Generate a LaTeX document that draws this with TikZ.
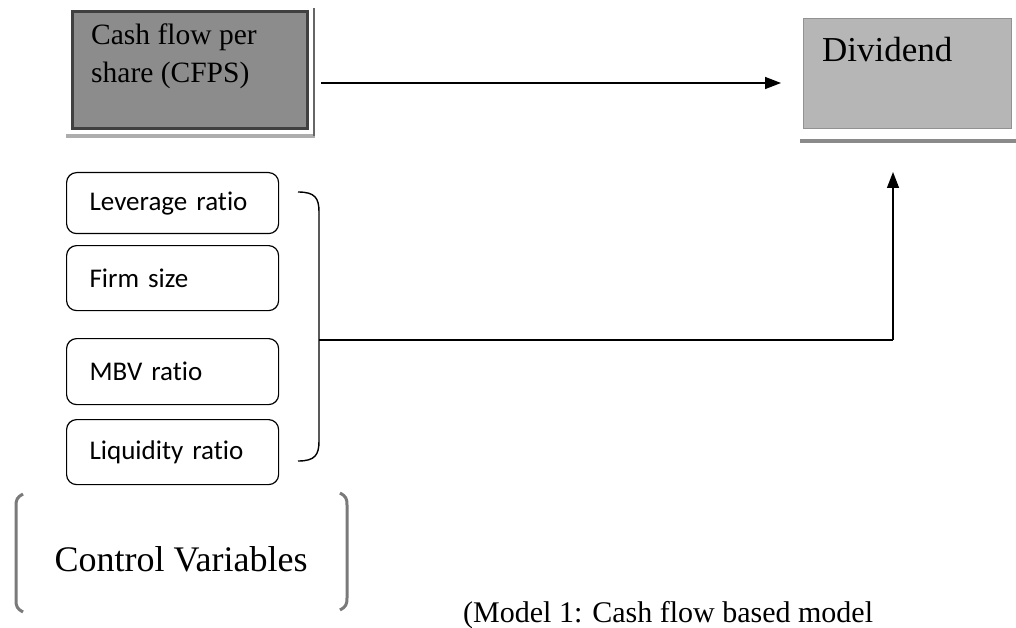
\documentclass[tikz,border=0pt]{standalone}
\usepackage{fontspec}
\setmainfont{Liberation Serif}
\newfontfamily\calfont[Ligatures=NoCommon]{Carlito}
\usetikzlibrary{arrows.meta}
\definecolor{darkbox}{HTML}{8C8C8C}
\definecolor{lightbox}{HTML}{B6B6B6}
\definecolor{brk}{HTML}{7A7A7A}
\definecolor{strip}{HTML}{8A8A8A}
\tikzset{
  varbox/.style={draw=black, line width=1.2pt, rounded corners=10pt, minimum width=212pt, anchor=north west, align=left, text width=166pt, font=\calfont\fontsize{27}{31}\selectfont, inner xsep=22pt},
  cfps/.style={draw=black!75, fill=darkbox, line width=3pt, minimum width=235pt, minimum height=117pt, anchor=north west},
  divbox/.style={fill=lightbox, draw=lightbox!80!black, line width=0.6pt, minimum width=208pt, minimum height=110pt, anchor=north west},
  conn/.style={line width=1.4pt, -{Triangle[length=16pt,width=12pt]}},
  plain/.style={line width=1.4pt},
  bracket/.style={line width=3pt, brk},
  stripline/.style={line width=3.5pt, strip}
}
\begin{document}
\begin{tikzpicture}[x=1pt,y=-1pt]
\useasboundingbox (0,0) rectangle (1016,628);
% CFPS box
\node[cfps] (cf) at (71,10) {};
\coordinate (s1a) at (66,136);
\coordinate (s1b) at (315,136);
\draw[stripline, strip!70!white] (s1a) -- (s1b);
\coordinate (r1a) at (314,8);
\coordinate (r1b) at (314,136);
\draw[line width=1.5pt, black!60] (r1a) -- (r1b);
\node[anchor=north west, align=left, font=\fontsize{29.5}{38}\selectfont, inner sep=0pt] (cft) at (91,24) {Cash flow per\\share (CFPS)};
% Dividend box
\node[divbox] (dv) at (803,18) {};
\coordinate (s2a) at (800,141);
\coordinate (s2b) at (1016,141);
\draw[stripline] (s2a) -- (s2b);
\node[anchor=base west, font=\fontsize{35}{40}\selectfont, inner sep=0pt] (dvt) at (822,62) {Dividend};
% main arrow
\coordinate (a1) at (321,83);
\coordinate (a2) at (781,83);
\draw[conn] (a1) -- (a2);

% control variable boxes
\node[varbox, minimum height=61pt] (lev) at (66,172) {Leverage ratio};
\node[varbox, minimum height=65pt] (firm) at (66,245) {Firm size};
\node[varbox, minimum height=66pt] (mbv) at (66,338) {MBV ratio};
\node[varbox, minimum height=65pt] (liq) at (66,419) {Liquidity ratio};

% brace
\coordinate (b1) at (298,192);
\coordinate (b2) at (298,461);
\coordinate (bm) at (319,340);
\draw[plain] (b1) .. controls (315,192) and (319,198) .. (319,212) -- (319,441) .. controls (319,455) and (315,461) .. (b2);
\coordinate (corner) at (893,340);
\coordinate (tip) at (893,172);
\draw[plain] (bm) -- (corner);
\draw[conn] (corner) -- (tip);

% brackets
\draw[bracket] (23,494) .. controls (17,497) and (16,500) .. (16,506) -- (16,600) .. controls (16,606) and (17,609) .. (23,612);
\draw[bracket] (340,493) .. controls (346,496) and (347,499) .. (347,505) -- (347,598) .. controls (347,604) and (346,607) .. (340,610);
\node[font=\fontsize{36}{40}\selectfont, inner sep=0pt] (cv) at (181,559) {Control Variables};
\node[anchor=base west, font=\fontsize{30}{34}\selectfont, inner sep=0pt] (m1) at (463,622) {(Model 1: Cash flow based model};
\end{tikzpicture}
\end{document}
